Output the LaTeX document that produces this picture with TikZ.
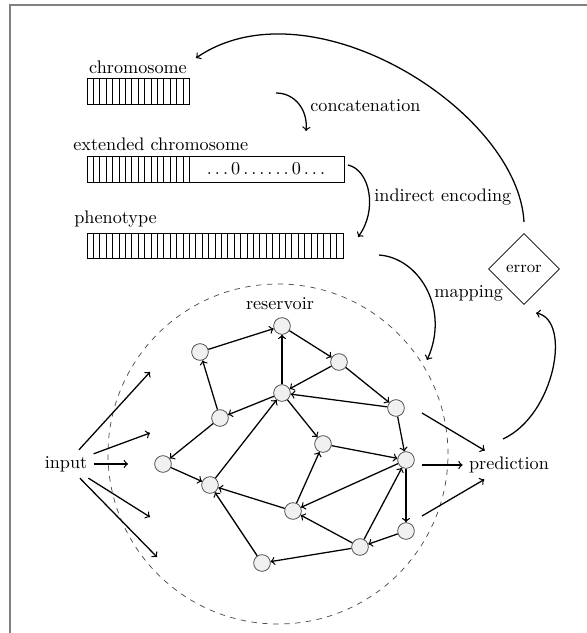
\documentclass[tikz,border=0pt]{standalone}
\usetikzlibrary{shapes.geometric,calc}
\begin{document}
\begin{tikzpicture}[x=0.55pt,y=-0.55pt,>=to,
  conn/.style={->, line width=0.7pt},
  neuron/.style={circle, draw=black!75, fill=gray!12, line width=0.4pt, minimum size=9.2pt, inner sep=0pt},
  lbl/.style={inner sep=0pt},
  bar/.style={line width=0.4pt},
  sepline/.style={line width=0.8pt}]
\useasboundingbox (0,0) rectangle (586,633);
\draw[gray, line width=1.1pt] (9.5,640) -- (9.5,5.5) -- (592,5.5);

% chromosome
\node[lbl, anchor=base] (chromlbl) at (138,74) {chromosome};
\draw[bar] (87,78) rectangle (189.4,104);
\foreach \i in {1,...,15} \draw[bar] (87+\i*6.4,78) -- (87+\i*6.4,104);
\draw[sepline] (189.4,78) -- (189.4,104);

% extended chromosome
\node[lbl, anchor=base west] (extlbl) at (73,150) {extended chromosome};
\draw[bar] (87,156) rectangle (344,182);
\foreach \i in {1,...,15} \draw[bar] (87+\i*6.4,156) -- (87+\i*6.4,182);
\draw[sepline] (189.4,156) -- (189.4,182);
\node[lbl] (zeros) at (266,169) {$\ldots0\ldots\ldots0\ldots$};

% phenotype
\node[lbl, anchor=base west] (phenlbl) at (74,223) {phenotype};
\draw[bar] (87,233) rectangle (343,258);
\foreach \i in {1,...,39} \draw[bar] (87+\i*6.4,233) -- (87+\i*6.4,258);

% labels
\node[lbl, anchor=west] (concat) at (310,106) {concatenation};
\node[lbl, anchor=west] (indenc) at (374,197) {indirect encoding};
\node[lbl, anchor=west] (mapl) at (434,293) {mapping};
\node[diamond, draw, line width=0.4pt, minimum width=39pt, minimum height=39pt, inner sep=0pt, font=\small] (error) at (524,269) {error};

% curved connectors
\coordinate (ca) at (276,93); \coordinate (cb) at (306,131);
\draw[conn] (ca) .. controls (295,93) and (308,110) .. (cb);
\coordinate (ia) at (348,165); \coordinate (ib) at (358,237);
\draw[conn] (ia) .. controls (370,170) and (378,210) .. (ib);
\coordinate (ma) at (379,255); \coordinate (mb) at (427,360);
\draw[conn] (ma) .. controls (420,258) and (450,310) .. (mb);
\coordinate (ea) at (524,222); \coordinate (fb) at (196,58);
\draw[conn] (ea) .. controls (518,110) and (310,-20) .. (fb);
\coordinate (pa) at (503,439); \coordinate (pb) at (536,313);
\draw[conn] (pa) .. controls (555,415) and (572,320) .. (pb);

% reservoir
\node[circle, draw=black!70, dashed, line width=0.4pt, minimum size=187pt, inner sep=0pt] (res) at (278,454) {};
\node[lbl] (reslbl) at (280,304) {reservoir};

\node[neuron] (A) at (282,326) {};
\node[neuron] (B) at (200,352) {};
\node[neuron] (I) at (339,362) {};
\node[neuron] (C) at (282,393) {};
\node[neuron] (D) at (220,418) {};
\node[neuron] (J) at (396,408) {};
\node[neuron] (K) at (323,444) {};
\node[neuron] (E) at (163,464) {};
\node[neuron] (L) at (406,460) {};
\node[neuron] (F) at (210,485) {};
\node[neuron] (H) at (293,511) {};
\node[neuron] (M) at (406,531) {};
\node[neuron] (N) at (360,547) {};
\node[neuron] (G) at (262,563) {};

\foreach \a/\b in {B/A, C/A, A/I, I/C, I/J, J/C, C/D, D/B, D/E, E/F, F/C, C/K, J/L, K/L, H/K, H/F, L/H, L/M, M/N, N/L, N/H, N/G, G/F}
  \draw[conn] (\a) -- (\b);

% input
\node (input) at (66,464) {input};
\coordinate (t1) at (150,372);
\coordinate (t2) at (150,433);
\coordinate (t3) at (128,464);
\coordinate (t4) at (150,517);
\coordinate (t5) at (157,557);
\foreach \t in {t1,t2,t3,t4,t5} \draw[conn] (input) -- (\t);

% prediction
\node (pred) at (509,465) {prediction};
\coordinate (s1) at (422,413);
\coordinate (s2) at (422,465);
\coordinate (s3) at (422,516);
\foreach \s in {s1,s2,s3} \draw[conn] (\s) -- (pred);
\end{tikzpicture}
\end{document}
